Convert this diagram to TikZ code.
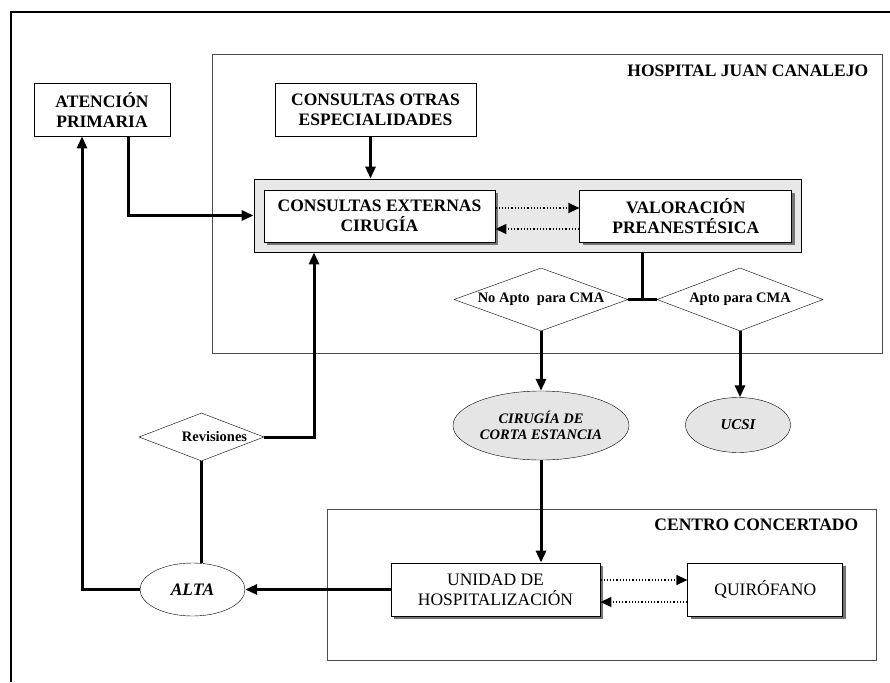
\documentclass[tikz,border=0pt]{standalone}
\usepackage{fontspec}
\setmainfont{Liberation Serif}
\usetikzlibrary{arrows.meta,positioning,shapes.geometric,shadows}

\begin{document}
\begin{tikzpicture}[
  x=1pt, y=-1pt,
  font=\fontsize{17.5}{20}\selectfont\bfseries,
  box/.style={draw, line width=0.8pt, align=center, inner sep=0pt, fill=white},
  pbox/.style={box, minimum height=53pt},
  shbox/.style={box, minimum height=52pt, drop shadow={shadow xshift=3pt, shadow yshift=-3pt, fill=black!55, opacity=1}},
  zone/.style={draw=black!70, line width=0.8pt, inner sep=0pt},
  cond/.style={draw, shape=diamond, inner sep=0pt, fill=white, font=\fontsize{14.5}{16}\selectfont\bfseries},
  exitnode/.style={draw, ellipse, inner sep=0pt, align=center, font=\fontsize{14.5}{16}\selectfont\bfseries\itshape},
  heading/.style={inner sep=0pt, font=\fontsize{17.5}{20}\selectfont\bfseries},
  arrow/.style={-{Triangle[length=12pt,width=10pt]}, line width=3pt},
  conn/.style={line width=3pt},
  dotarrow/.style={-{Triangle[length=11pt,width=10pt]}, dotted, line width=1.2pt}
]
\useasboundingbox (0,0) rectangle (890,682);

% outer frame
\draw[line width=2.5pt] (11,682) -- (11,12) -- (890,12);

% zones
\node[zone, minimum width=670pt, minimum height=299pt] (hospital) at (547,203.5) {};
\node[heading, anchor=base east] at ([xshift=-14pt,yshift=-23pt]hospital.north east) {HOSPITAL JUAN CANALEJO};
\node[zone, minimum width=549pt, minimum height=151pt] (centro) at (601.5,584.5) {};
\node[heading, anchor=base east] at ([xshift=-18pt,yshift=-22pt]centro.north east) {CENTRO CONCERTADO};

% boxes
\node[pbox, minimum width=136pt] (aten) at (102,109.5) {ATENCIÓN\\PRIMARIA};
\node[pbox, minimum width=201pt] (otras) at (375.5,109.5) {CONSULTAS OTRAS\\ESPECIALIDADES};
\node[draw, fill=black!9, line width=0.8pt, inner sep=0pt, minimum width=547pt, minimum height=73pt] (grupo) at (527.5,215.5) {};
\node[shbox, minimum width=231pt] (cext) at (379.5,216) {CONSULTAS EXTERNAS\\CIRUGÍA};
\node[shbox, minimum width=212pt, right=84pt of cext] (valor) {VALORACIÓN\\PREANESTÉSICA};

% decisions and exits
\node[cond, aspect=2.76, minimum width=174pt, minimum height=63pt] (noapto) at (541,299.5) {No Apto\ \ para CMA};
\node[cond, aspect=2.63, minimum width=166pt, minimum height=63pt] (apto) at (740,299.5) {Apto para CMA};
\node[exitnode, fill=black!10, minimum width=176pt, minimum height=69pt] (cirugia) at (541,425.5) {CIRUGÍA DE\\CORTA ESTANCIA};
\node[exitnode, fill=black!10, minimum width=105pt, minimum height=55pt, font=\fontsize{15}{16}\selectfont\bfseries\itshape] (ucsi) at (738,425) {UCSI};
\node[cond, aspect=2.6, minimum width=125pt, minimum height=48pt] (rev) at (201.5,437) {\hspace*{26pt}Revisiones};

% centro concertado
\node[shbox, minimum width=209pt, minimum height=53pt, font=\fontsize{17.5}{20}\selectfont\mdseries] (unidad) at (495.5,589.5) {UNIDAD DE\\HOSPITALIZACIÓN};
\node[shbox, minimum width=155pt, minimum height=53pt, font=\fontsize{17.5}{20}\selectfont\mdseries, right=87pt of unidad] (quiro) {QUIRÓFANO};
\node[exitnode, fill=white, minimum width=105pt, minimum height=53pt, font=\fontsize{17.5}{20}\selectfont\bfseries\itshape] (alta) at (192.5,589.5) {ALTA};

% connectors
\draw[arrow] ([xshift=26pt]aten.south) |- (grupo.west);
\draw[arrow] ([xshift=-5pt]otras.south) -- ([xshift=-5pt]otras.south |- grupo.north);
\draw[dotarrow] ([yshift=8pt]cext.east) -- ([yshift=8pt]valor.west);
\draw[dotarrow] ([yshift=-13pt]valor.west) -- ([yshift=-13pt]cext.east);
\coordinate (cruce) at (642,299.5);
\draw[conn] (cruce |- grupo.south) -- (cruce);
\draw[conn] (noapto.east) -- (apto.west);
\draw[arrow] (noapto.south) -- (cirugia.north);
\draw[arrow] (apto.south) -- (apto.south |- ucsi.north);
\draw[arrow] (cirugia.south) -- (cirugia.south |- unidad.north);
\draw[dotarrow] ([yshift=9.5pt]unidad.east) -- ([yshift=9.5pt]quiro.west);
\draw[dotarrow] ([yshift=-12.5pt]quiro.west) -- ([yshift=-12.5pt]unidad.east);
\draw[arrow] (unidad.west) -- (alta.east);
\draw[arrow] (alta.west) -| ([xshift=-20pt]aten.south);
\draw[conn] (rev.south) -- (rev.south |- alta.north);
\draw[arrow] (rev.east) -| ([xshift=-213.5pt]grupo.south);

\end{tikzpicture}
\end{document}
